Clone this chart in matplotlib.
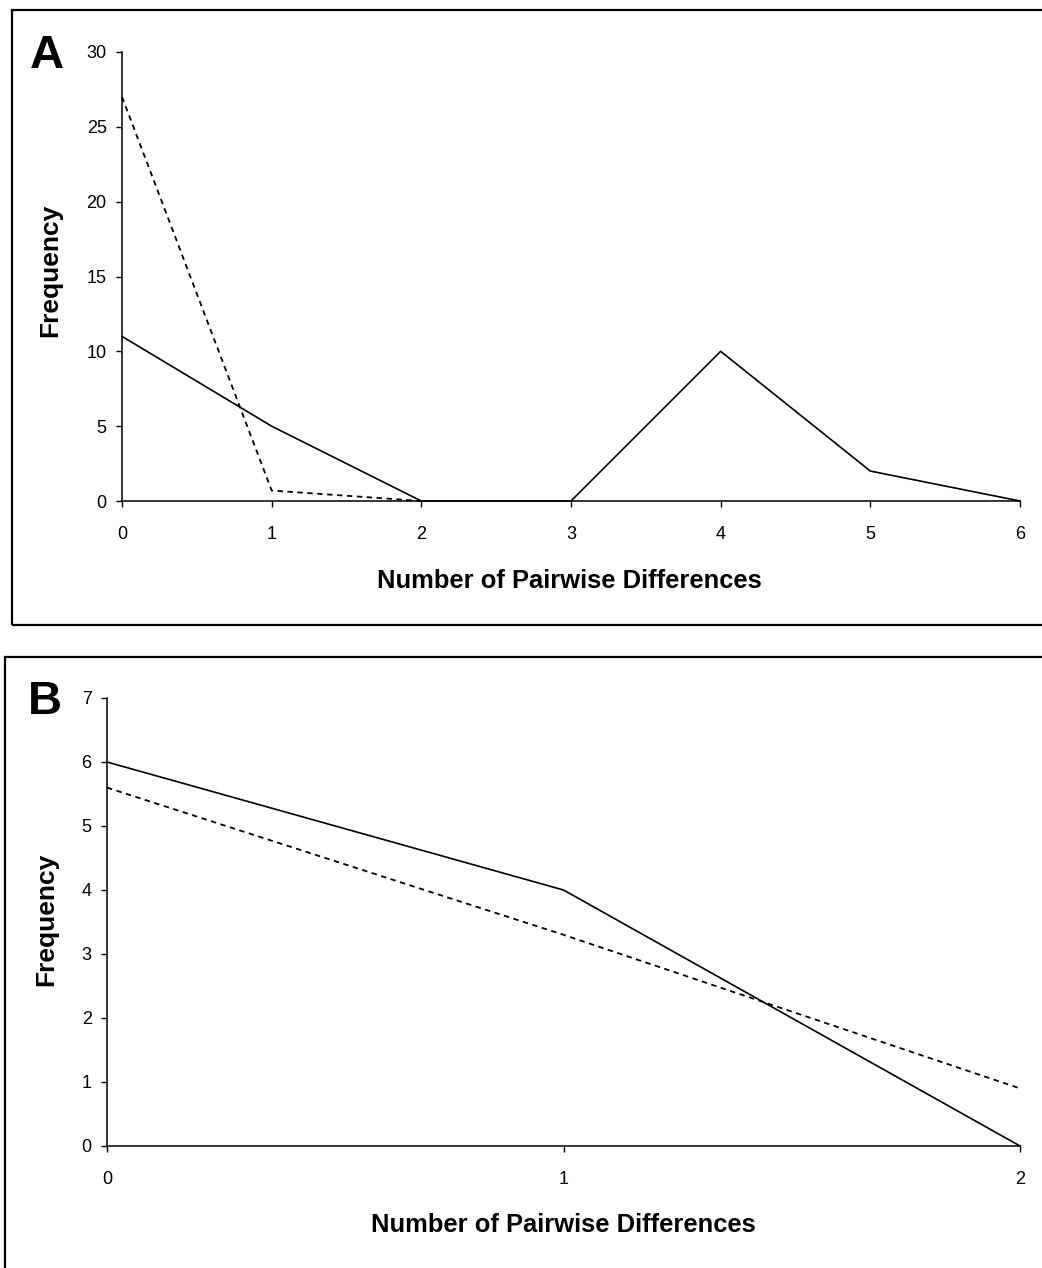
import matplotlib
matplotlib.use("Agg")
import matplotlib.pyplot as plt
from matplotlib.patches import Rectangle

plt.rcParams['font.family'] = ['Liberation Sans', 'DejaVu Sans']

# Panel A data
a_x = [0, 1, 2, 3, 4, 5, 6]
a_observed = [11, 5, 0, 0, 10, 2, 0]
a_expected_x = [0, 1, 2]
a_expected = [27, 0.7, 0]
a_yticks = [0, 5, 10, 15, 20, 25, 30]
a_xticks = [0, 1, 2, 3, 4, 5, 6]

# Panel B data
b_x = [0, 1, 2]
b_observed = [6, 4, 0]
b_expected = [5.6, 3.3, 0.9]
b_yticks = [0, 1, 2, 3, 4, 5, 6, 7]
b_xticks = [0, 1, 2]

xlabel_text = "Number of Pairwise Differences"
ylabel_text = "Frequency"

W, H = 1042, 1268
fig = plt.figure(figsize=(W / 100, H / 100), dpi=100)

def fx(px):
    return px / W

def fy(py):
    return 1 - py / H

# panel frames
fig.patches.append(Rectangle((fx(12), fy(625)), 1.05, fy(10) - fy(625),
                             transform=fig.transFigure, fill=False,
                             edgecolor='black', linewidth=1.6, clip_on=False))
fig.patches.append(Rectangle((fx(5), -0.05), 1.05, fy(657) + 0.05,
                             transform=fig.transFigure, fill=False,
                             edgecolor='black', linewidth=1.6, clip_on=False))

axA = fig.add_axes([fx(122), fy(501), fx(1020) - fx(122), fy(52) - fy(501)])
axB = fig.add_axes([fx(107), fy(1146), fx(1020) - fx(107), fy(698) - fy(1146)])

def style(ax):
    for s in ['top', 'right']:
        ax.spines[s].set_visible(False)
    for s in ['left', 'bottom']:
        ax.spines[s].set_linewidth(1.1)
        ax.spines[s].set_color('black')
    ax.tick_params(axis='both', direction='out', length=4, width=1.0,
                   labelsize=13, colors='black')
    ax.tick_params(axis='y', pad=7)
    ax.tick_params(axis='x', pad=14)
    ax.patch.set_alpha(0)

# Panel A
axA.plot(a_x, a_observed, color='black', linewidth=1.2, clip_on=False)
axA.plot(a_expected_x, a_expected, color='black', linewidth=1.3,
         linestyle=(0, (3, 2.5)), clip_on=False)
axA.set_xlim(0, 6)
axA.set_ylim(0, 30)
axA.set_xticks(a_xticks)
axA.set_yticks(a_yticks)
style(axA)
axA.set_xlabel(xlabel_text, fontsize=18.4, fontweight='bold', va='center')
axA.xaxis.set_label_coords(0.498, -0.178)
axA.set_ylabel(ylabel_text, fontsize=19, fontweight='bold', va='center')
axA.yaxis.set_label_coords(-0.080, 0.514)

# Panel B
axB.plot(b_x, b_observed, color='black', linewidth=1.2, clip_on=False)
axB.plot(b_x, b_expected, color='black', linewidth=1.3,
         linestyle=(0, (3, 2.5)), clip_on=False)
axB.set_xlim(0, 2)
axB.set_ylim(0, 7)
axB.set_xticks(b_xticks)
axB.set_yticks(b_yticks)
style(axB)
axB.set_xlabel(xlabel_text, fontsize=18.4, fontweight='bold', va='center')
axB.xaxis.set_label_coords(0.4995, -0.177)
axB.set_ylabel(ylabel_text, fontsize=19, fontweight='bold', va='center')
axB.yaxis.set_label_coords(-0.066, 0.505)

fig.text(fx(47), fy(56), "A", fontsize=34, fontweight='bold', ha='center', va='center')
fig.text(fx(45), fy(702), "B", fontsize=34, fontweight='bold', ha='center', va='center')

fig.savefig("out.png", dpi=100)
